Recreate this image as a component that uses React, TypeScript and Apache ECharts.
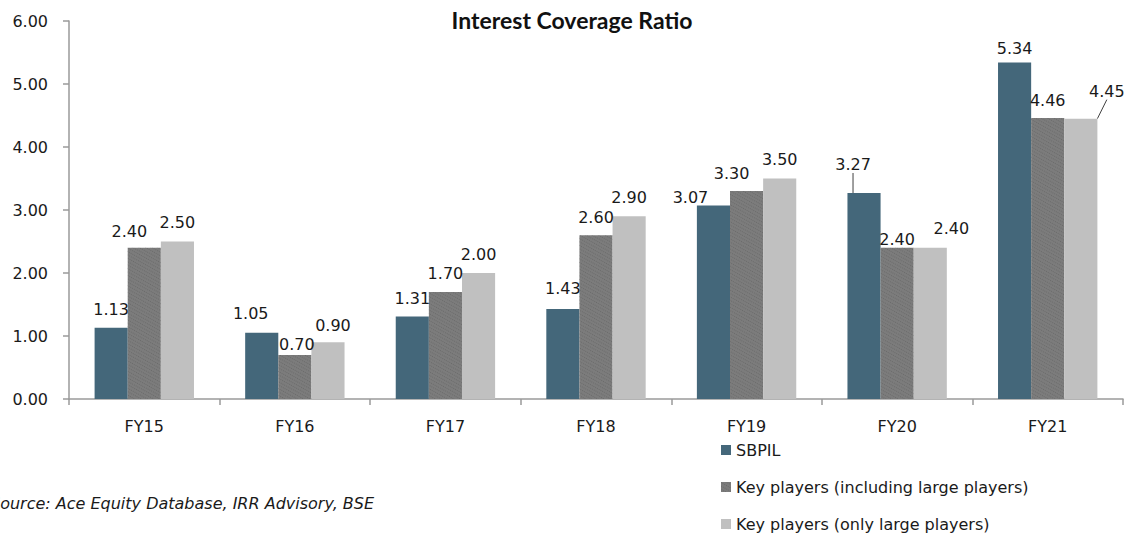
import React, { useEffect, useRef } from "react";
import * as echarts from "echarts";

const categories = ["FY15", "FY16", "FY17", "FY18", "FY19", "FY20", "FY21"];
const seriesNames = [
  "SBPIL",
  "Key players (including large players)",
  "Key players (only large players)",
];
const sbpil = [1.13, 1.05, 1.31, 1.43, 3.07, 3.27, 5.34];
const keyIncl = [2.4, 0.7, 1.7, 2.6, 3.3, 2.4, 4.46];
const keyOnly = [2.5, 0.9, 2.0, 2.9, 3.5, 2.4, 4.45];
const yTicks = [0, 1, 2, 3, 4, 5, 6];

const FONT = "DejaVu Sans";

// label nudges (px) relative to the default "top" placement, per series / category
const nudges: number[][][] = [
  [[0, 0], [-11, -1], [0, 0], [0, -2], [-23, 10], [-11, -10], [0, 4]],
  [[-15, 2], [2, 8], [0, 0], [0, 0], [-15, 0], [0, 10], [0, 0]],
  [[0, -1], [5, 1], [0, -1], [0, -1], [0, -1], [21, -1], [26, -9]],
];
const leaders: boolean[][] = [
  [false, false, false, false, false, true, false],
  [false, false, false, false, false, false, false],
  [false, false, false, false, false, false, true],
];

export default function App() {
  const ref = useRef<HTMLDivElement>(null);
  useEffect(() => {
    if (!ref.current) return;
    const chart = echarts.init(ref.current, undefined, { renderer: "svg" });
    const colors = ["#44677a", "#7c7c7c", "#c0c0c0"];
    const values = [sbpil, keyIncl, keyOnly];
    const series = values.map((vals, si) => ({
      name: seriesNames[si],
      type: "bar",
      barGap: "0%",
      barCategoryGap: "34%",
      itemStyle: {
        color: colors[si],
        ...(si === 1
          ? {
              decal: {
                symbol: "rect",
                symbolSize: 1,
                color: "rgba(95,95,95,0.6)",
                dashArrayX: [1, 1],
                dashArrayY: [1, 2],
                rotation: 0.5,
              },
            }
          : {}),
      },
      label: {
        show: true,
        position: "top",
        distance: 10,
        fontFamily: FONT,
        fontSize: 16,
        color: "#1a1a1a",
        formatter: (p: any) => Number(p.value).toFixed(2),
      },
      labelLine: { show: false },
      labelLayout: (p: any) => {
        const n = nudges[si][p.dataIndex];
        return { dx: n[0], dy: n[1] };
      },
      data: vals.map((v, i) => ({
        value: v,
        labelLine: leaders[si][i]
          ? { show: true, lineStyle: { color: "#404040", width: 1 } }
          : { show: false },
      })),
    }));

    chart.setOption({
      animation: false,
      title: {
        text: "Interest Coverage Ratio",
        left: 567,
        top: 3,
        textAlign: "center",
        textStyle: {
          fontFamily: "Lato",
          fontWeight: "bold",
          fontSize: 23,
          color: "#111",
        },
      },
      legend: {
        orient: "vertical",
        left: 716,
        top: 437,
        itemWidth: 10,
        itemHeight: 10,
        itemGap: 21,
        icon: "rect",
        textStyle: { fontFamily: FONT, fontSize: 16, color: "#1a1a1a" },
        data: seriesNames,
      },
      grid: { left: 69, right: 4, top: 21, bottom: 139, containLabel: false },
      xAxis: {
        type: "category",
        data: categories,
        axisLine: { lineStyle: { color: "#9a9a9a", width: 1.5 } },
        axisTick: { show: true, length: 6, lineStyle: { color: "#9a9a9a", width: 1.5 } },
        axisLabel: { fontFamily: FONT, fontSize: 16, color: "#1a1a1a", margin: 19 },
      },
      yAxis: {
        type: "value",
        min: yTicks[0],
        max: yTicks[yTicks.length - 1],
        interval: 1,
        splitLine: { show: false },
        axisLine: { show: true, lineStyle: { color: "#9a9a9a", width: 1.5 } },
        axisTick: { show: true, length: 6, lineStyle: { color: "#9a9a9a", width: 1.5 } },
        axisLabel: {
          fontFamily: FONT,
          fontSize: 16,
          color: "#1a1a1a",
          margin: 21,
          formatter: (v: number) => v.toFixed(2),
        },
      },
      graphic: [
        {
          type: "text",
          left: -10,
          top: 495,
          style: {
            text: "Source: Ace Equity Database, IRR Advisory, BSE",
            fontFamily: FONT,
            fontStyle: "italic",
            fontSize: 16,
            fill: "#1a1a1a",
          },
        },
      ],
      series,
    });
    return () => chart.dispose();
  }, []);
  return (
    <div
      ref={ref}
      style={{ position: "absolute", left: 0, top: 0, width: 1127, height: 538, background: "#fff" }}
    />
  );
}
